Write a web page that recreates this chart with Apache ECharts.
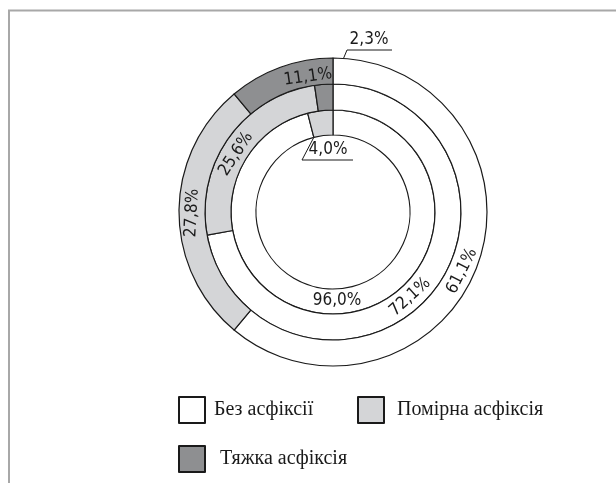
<!DOCTYPE html>
<html>
<head>
<meta charset="utf-8">
<script src="https://cdn.jsdelivr.net/npm/echarts@6/dist/echarts.min.js"></script>
<style>
html,body{margin:0;padding:0;background:#fff;}
#chart{width:616px;height:483px;}
</style>
</head>
<body>
<div id="chart"></div>
<script>
// ---- data ----
var categories = ['Без асфіксії', 'Помірна асфіксія', 'Тяжка асфіксія'];
var innerValues = [96.0, 4.0];          // inner ring
var middleValues = [72.1, 25.6, 2.3];   // middle ring
var outerValues = [61.1, 27.8, 11.1];   // outer ring

var colors = ['#ffffff', '#d4d5d7', '#8e8f91'];
var INK = '#1a1a1a';
var pctFont = '"Liberation Sans Narrow", "Arial Narrow", "DejaVu Sans Condensed", sans-serif';
var serifFont = '"Liberation Serif", "Times New Roman", serif';

function fmt(p) { return p.value.toFixed(1).replace('.', ',') + '%'; }

function buildData(values, outsideIdx) {
  return values.map(function (v, i) {
    var d = {
      name: categories[i],
      value: v,
      itemStyle: { color: colors[i] }
    };
    if (i === outsideIdx) {
      d.label = { position: 'outside', rotate: 0 };
      d.labelLine = { show: true };
    }
    return d;
  });
}

var cx = 333, cy = 212;

// label placement (text positions only), per ring and category index
var labelPlace = {
  inner: { 0: [337, 301, 0], 1: [328, 150, 0, [[314, 137], [302, 160], [353, 160]]] },
  middle: { 0: [410, 297, 42], 1: [236, 154, 57], 2: [369, 40, 0, [[327, 98], [347, 50], [392, 50]]] },
  outer: { 0: [462, 271, 63], 1: [192, 213, 87], 2: [308, 77, 8] }
};

function layoutFor(ring) {
  return function (p) {
    var s = labelPlace[ring][p.dataIndex];
    if (!s) return;
    var o = { x: s[0], y: s[1], rotate: s[2], align: 'center', verticalAlign: 'middle' };
    if (s[3]) o.labelLinePoints = s[3];
    return o;
  };
}

function ringSeries(values, r0, r1, outsideIdx, ring) {
  return {
    type: 'pie',
    center: [cx, cy],
    radius: [r0, r1],
    startAngle: 90,
    clockwise: true,
    avoidLabelOverlap: false,
    silent: true,
    animation: false,
    itemStyle: { borderColor: INK, borderWidth: 1.2 },
    label: {
      show: true,
      position: 'inside',
      rotate: 0,
      formatter: fmt,
      color: INK,
      fontFamily: pctFont,
      fontSize: 17
    },
    labelLine: { show: false, lineStyle: { color: INK, width: 1 } },
    labelLayout: layoutFor(ring),
    data: buildData(values, outsideIdx)
  };
}

var option = {
  backgroundColor: '#ffffff',
  graphic: [{
    type: 'polyline',
    shape: { points: [[9, 483], [9, 10.5], [616, 10.5]] },
    style: { stroke: '#a8a8a8', lineWidth: 2, fill: null },
    silent: true
  }],
  legend: [
    {
      left: 178, top: 396, padding: 0, orient: 'horizontal',
      icon: 'rect', itemWidth: 26, itemHeight: 26,
      data: [categories[0]],
      selectedMode: false,
      textStyle: { fontFamily: serifFont, fontSize: 20, color: INK, padding: [0, 0, 0, 4] }
    },
    {
      left: 357, top: 396, padding: 0,
      icon: 'rect', itemWidth: 26, itemHeight: 26,
      data: [categories[1]],
      selectedMode: false,
      textStyle: { fontFamily: serifFont, fontSize: 20, color: INK, padding: [0, 0, 0, 8] }
    },
    {
      left: 178, top: 445, padding: 0,
      icon: 'rect', itemWidth: 26, itemHeight: 26,
      data: [categories[2]],
      selectedMode: false,
      textStyle: { fontFamily: serifFont, fontSize: 20, color: INK, padding: [0, 0, 0, 10] }
    }
  ],
  series: [
    ringSeries(innerValues, 77, 102, 1, 'inner'),
    ringSeries(middleValues, 102, 128, 2, 'middle'),
    ringSeries(outerValues, 128, 154, -1, 'outer')
  ]
};

var chart = echarts.init(document.getElementById('chart'), null, { renderer: 'canvas' });
chart.setOption(option);
</script>
</body>
</html>
